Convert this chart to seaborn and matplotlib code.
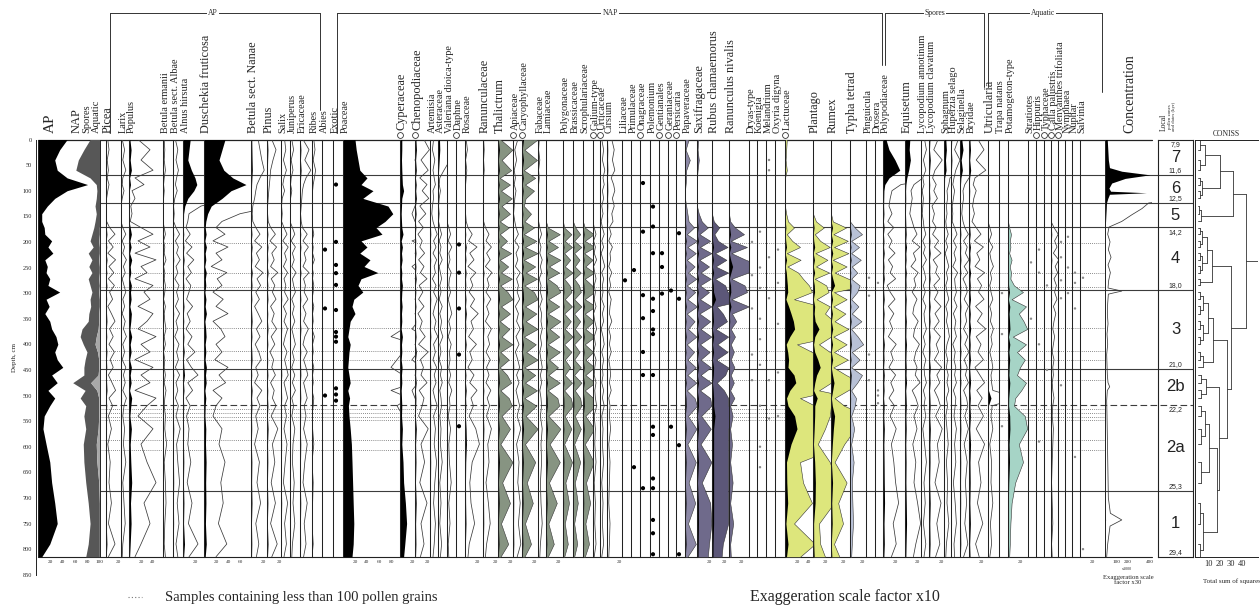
import numpy as np
import matplotlib
matplotlib.use("Agg")
import matplotlib.pyplot as plt
from matplotlib.lines import Line2D
import seaborn as sns

# ---------------- DATA ----------------
depth = [0, 20, 40, 60, 75, 88, 100, 115, 130, 145, 160,
         172, 185, 198, 210, 222, 235, 248, 260, 272, 285,
         298, 312, 326, 340, 355, 370, 385, 400, 415, 430, 445,
         460, 475, 490, 505, 520, 540, 565, 595, 630, 670,
         710, 750, 790, 815]

ap = [47, 35, 27, 31, 47, 80, 47, 27, 15, 6, 6,
      10, 11, 22, 16, 24, 11, 15, 13, 19, 16,
      35, 13, 18, 11, 19, 22, 29, 32, 27, 31, 40,
      22, 31, 16, 27, 19, 10, 8, 13, 19, 22, 27, 31, 19, 6]
nap = [37, 39, 38, 30, 37, 14, 48, 67, 77, 88, 86,
       80, 76, 62, 73, 57, 76, 67, 74, 62, 68,
       52, 71, 67, 71, 62, 49, 39, 41, 52, 45, 34,
       52, 25, 60, 41, 58, 64, 69, 60, 55, 55, 54, 53, 62, 71]
spores = [16, 26, 35, 39, 16, 6, 5, 6, 8, 6, 8,
          9, 12, 14, 10, 18, 11, 17, 12, 17, 15,
          11, 15, 14, 16, 17, 26, 26, 19, 17, 22, 24,
          23, 29, 19, 30, 21, 24, 20, 21, 21, 21, 18, 15, 18, 22]
aquatic = [0, 0, 0, 0, 0, 0, 0, 0, 0, 0, 0,
           1, 1, 2, 1, 1, 2, 1, 1, 2, 1,
           2, 1, 1, 2, 2, 3, 6, 8, 4, 2, 2,
           3, 15, 5, 2, 2, 2, 3, 6, 5, 2, 1, 1, 1, 1]

picea = [0.3,0.5,0.2,0.4, 0.2,0.5,0.3,0.1, 0,0,0.1, 0.6,1.5,0.4,1.2,0.3,1.6,0.5,1.3,0.4,1.4, 0.6,1.1,0.3,0.9,1.5,0.6,1.2,0.5,1.4,0.7,1.2, 0.4,1.0,1.6,0.5, 1.1,0.4,0.9,0.3,0.7,0.5, 0.9,0.4,1.5,0.4]
larix = [0.2,0.6,0.3,0.8, 0.3,0.2,0.5,0.2, 0,0,0, 0.3,0.8,0.2,0.6,0.3,0.9,0.4,0.7,0.2,0.5, 0.8,0.3,0.6,0.2,0.7,0.4,0.9,0.3,0.6,0.2,0.8, 0.4,0.7,0.3,0.9, 0.5,0.3,0.6,0.4,0.8,0.3, 0.5,0.7,0.3,0.2]
populus = [1.5,3.5,2.0,4.0, 1.0,2.5,0.5,1.0, 0.3,0.5,0.2, 2.0,4.0,1.5,3.5,1.0,4.5,2.0,3.0,1.0,4.0, 2.5,3.5,1.5,4.0,3.0,1.5,4.5,2.0,3.5,1.0,4.0, 2.0,3.5,1.0,4.5, 3.0,1.5,4.0,2.0,3.0,4.5, 2.5,3.5,2.0,1.0]
bet_erm = [0.2,0.3,0.2,0.4, 0.2,0.1,0.2,0.1, 0,0,0, 0.2,0.4,0.1,0.3,0.2,0.5,0.1,0.3,0.2,0.4, 0.3,0.1,0.4,0.2,0.3,0.5,0.2,0.4,0.1,0.3,0.2, 0.4,0.2,0.5,0.3, 0.2,0.4,0.3,0.6,0.2,0.4, 0.5,0.3,0.2,0.4]
bet_alb = [0.4,0.8,0.5,0.9, 0.6,0.4,0.7,0.3, 0.1,0.2,0.1, 0.5,1.1,0.4,0.9,0.6,1.2,0.5,0.8,0.3,1.0, 0.6,0.9,0.4,1.1,0.5,0.8,0.3,1.0,0.6,0.9,0.4, 1.1,0.5,0.8,0.4, 0.9,0.5,1.2,0.6,0.8,1.1, 0.7,1.0,0.5,0.8]
alnus = [12,10,8,14, 20,23,18,8, 3,1.0,0.8, 0.5,1.2,0.4,1.5,0.6,1.8,0.8,1.4,0.5,1.3, 1.0,0.6,1.6,0.7,1.2,0.5,1.5,0.8,2.0,0.6,1.4, 2.5,0.8,1.6,0.5, 1.2,0.6,1.0,0.8,1.3,0.7, 1.5,0.9,2.5,1.0]
duschekia = [35,30,25,33, 48,70,45,30, 12,6,3, 2.0,3.5,1.5,4.0,2.0,3.0,1.2,3.8,2.2,3.0, 1.5,3.2,2.0,4.0,1.5,2.8,3.5,2.0,3.0,1.8,4.0, 2.5,3.6,1.5,3.0, 2.0,1.5,3.0,2.5,3.5,2.8, 3.2,2.4,3.8,2.0]
bet_nana = [1.2,1.5,1.8,2.2, 1.5,1.0,0.8,0.6, 0.3,0.2,0.3, 0.8,1.5,0.6,1.8,0.9,1.4,0.7,2.0,1.0,1.6, 0.8,1.4,0.6,1.2,1.8,0.9,1.5,0.7,1.3,1.7,0.8, 1.2,0.6,1.8,1.0, 1.5,0.8,1.2,0.6,1.4,1.0, 1.6,0.8,1.3,0.9]
pinus = [0.8,1.5,1.0,0.6, 0.5,0.4,0.3,0.2, 0.1,0.1,0.2, 0.6,1.4,0.5,1.6,0.8,1.2,0.6,1.8,0.7,1.3, 0.9,1.5,0.6,1.2,0.8,1.6,0.7,1.3,0.5,1.1,0.8, 1.4,0.6,1.2,0.9, 1.5,0.7,1.8,0.9,1.3,0.7, 1.4,0.6,1.7,0.8]
salix = [0.6,0.8,0.4,0.9, 0.5,0.3,0.6,0.2, 0.1,0.2,0.1, 0.5,1.0,0.3,1.2,0.6,0.9,0.4,1.1,0.5,0.8, 0.6,1.2,0.4,0.9,0.5,1.1,0.7,0.4,1.0,0.6,0.9, 1.2,0.5,0.8,1.1, 0.6,0.9,0.5,1.0,0.7,0.4, 1.1,0.6,0.9,0.5]
juniperus = [0.3,0.6,0.2,0.5, 0.2,0.1,0.3,0.1, 0,0.1,0, 0.4,0.8,0.2,0.9,0.4,0.7,0.3,1.0,0.4,0.6, 0.9,0.3,0.7,0.4,0.8,0.3,0.6,0.9,0.4,0.7,0.3, 0.8,0.4,0.9,0.3, 0.6,0.3,0.8,0.5,0.4,0.7, 0.5,0.8,0.4,0.3]
ericaceae = [0.5,1.5,0.8,1.8, 1.0,0.6,0.4,0.3, 0.2,0.1,0.2, 0.4,1.2,0.5,1.4,0.7,1.0,0.5,1.5,0.6,0.9, 0.7,1.3,0.5,1.0,0.6,1.4,0.8,0.5,1.2,0.6,1.0, 1.3,0.6,0.9,1.2, 0.7,1.0,0.6,1.2,0.8,0.5, 1.2,0.7,1.0,0.6]
ribes = [0.3,0.5,0.2,0.6, 0.4,0.2,0.1,0, 0,0,0, 0.1,0.3,0,0.2,0.1,0.4,0,0.2,0.1,0.3, 0.2,0,0.3,0.1,0.2,0,0.4,0.1,0.2,0,0.3, 0.1,0.2,0,0.3, 0.2,0,0.1,0.3,0,0.2, 0.1,0,0.2,0]
abies_dots = [215, 330, 500]
exotic_dots = [88, 200, 245, 261, 284, 333, 376, 385, 395, 486, 498, 510]

poaceae = [20,22,25,28, 40,30,50,33, 75,83,70, 55,65,30,40,28,45,35,58,30,25, 33,18,15,20,12,10,8,12,10,9,8, 10,12,8,11, 9,10,12,14,15,16, 17,18,17,15]
cyper = [3,3,2.5,3, 3.5,4,6,3, 2.5,2,2.5, 3,5,2,4,2.5,3.5,2,3,2.5,4, 3,2.5,3.5,2.5,3,2,4,2.5,3,2,3.5, 2.5,3,2,2.5, 3,2.5,4,3,5,6, 9,11,8,6]
cheno = [1.5,2.4,1.0,2.2, 0.8,2.0,1.2,2.3, 0.8,1.8,0.6, 1.4,0.5,1.2,0.8,1.6,0.6,1.5,0.9,2.0,0.7, 1.3,0.6,1.5,0.5,1.2,0.8,1.7,0.6,2.2,0.9,1.4, 1.0,2.0,0.7,1.5, 1.2,0.6,2.2,1.0,1.6,0.8, 2.0,1.0,1.5,0.9]
artemisia = [0.6,0.4,0.8,0.5, 0.7,0.9,0.5,0.6, 0.4,0.3,0.5, 0.8,1.2,0.6,1.0,0.5,1.1,0.7,0.9,0.4,1.0, 0.6,1.2,0.8,0.5,1.0,0.7,1.3,0.6,0.9,0.5,1.1, 0.7,1.0,0.5,0.8, 1.2,0.6,0.9,0.7,1.1,0.8, 0.6,0.9,0.7,0.5]
asteraceae = [2.5,3.0,2.0,1.0, 0.3,0.2,0.4,0.2, 0.1,0.2,0.1, 0.3,0.6,0.2,0.5,0.3,0.7,0.2,0.4,0.6,0.3, 0.5,0.2,0.7,0.3,0.6,0.4,0.8,0.3,0.5,0.2,0.6, 0.4,0.7,0.3,0.5, 0.6,0.3,0.5,0.4,0.7,0.3, 0.5,0.3,0.6,0.4]
valeriana = [0,0,0.1,0, 0,0,0,0, 0,0,0, 0.3,0.6,0.2,0.8,0.3,0.5,0.2,0.7,0.4,0.3, 0.6,0.2,0.5,0.8,0.3,0.6,0.2,0.7,0.4,0.5,0.3, 0.6,0.3,0.8,0.4, 0.5,0.2,0.6,0.3,0.4,0.7, 0.3,0.5,0.2,0.3]
daphne_dots = [205, 260, 330, 420, 560]
rosaceae = [0.2,0.4,0.1,0.3, 0.2,0.1,0,0.1, 0,0.1,0.2, 0.5,1.2,0.6,2.0,0.8,1.5,0.5,1.8,0.9,1.3, 0.7,1.6,0.9,2.2,1.0,1.4,0.6,1.9,0.8,1.2,0.5, 1.5,0.8,2.0,1.0, 1.4,0.7,1.8,2.4,1.2,0.8, 1.0,1.6,0.7,0.5]
ranunc = [0.1,0.2,0.1,0.2, 0.1,0,0.1,0, 0,0,0.1, 0.4,1.0,0.5,1.4,0.6,1.2,0.4,1.5,0.7,1.0, 0.5,1.3,0.6,1.0,0.4,1.4,0.8,1.1,0.5,1.2,0.6, 1.0,0.5,1.3,0.7, 1.1,0.6,1.4,0.8,1.0,0.5, 0.9,1.2,0.6,0.4]
thalictrum = [0.4,2.4,0.6,2.2, 0.3,2.0,0.5,2.3, 0.6,2.0,0.3, 1.8,0.3,1.5,0.4,2.2,0.3,1.7,0.5,2.3,0.4, 1.6,2.4,0.5,2.0,0.3,1.9,0.6,2.4,0.4,1.8,0.3, 1.5,2.2,0.4,1.8, 2.3,0.6,2.0,0.4,2.4,0.7, 2.0,0.5,1.7,0.4]
apiaceae = [0.8,0.3,0.6,0.2, 0.4,0.2,0.5,0.3, 0.2,0.1,0.3, 0.5,0.9,0.3,1.0,0.5,0.8,0.4,1.2,0.6,0.9, 0.7,1.1,0.4,0.9,0.6,1.2,0.5,1.0,0.4,0.8,1.1, 0.6,1.0,0.5,0.8, 1.1,0.7,1.3,0.6,1.0,0.8, 1.2,0.9,1.3,0.7]
caryo = [2.6,0.4,2.5,0.3, 2.2,0.5,2.0,0.6, 0.3,1.5,0.4, 2.0,0.3,2.4,0.5,2.6,0.3,2.2,0.6,2.5,0.4, 2.0,2.6,0.5,2.4,0.6,2.6,0.3,2.3,0.7,2.6,0.4, 2.2,0.5,2.5,0.4, 2.4,0.6,2.6,0.5,2.2,0.8, 1.8,0.5,1.5,0.4]
fabaceae = [0.2,0.1,0.3,0.1, 0.2,0.1,0,0.1, 0,0,0.1, 0.3,0.6,0.2,0.5,0.3,0.7,0.4,0.6,0.2,0.5, 0.4,0.7,0.3,0.6,0.5,0.7,0.4,0.6,0.3,0.5,0.7, 0.4,0.6,0.3,0.5, 0.6,0.4,0.7,0.5,0.6,0.4, 0.5,0.7,0.4,0.3]
lamiaceae = [0,0,0,0, 0,0,0,0, 0,0,0, 0.3,2.3,0.4,2.0,0.3,2.4,0.5,2.2,0.3,1.8, 2.4,0.4,2.2,0.3,2.4,0.6,2.2,0.3,2.3,0.5,2.0, 0.4,2.3,0.3,1.9, 2.2,0.4,2.4,0.6,2.3,0.5, 1.8,0.4,1.3,0.3]
polygon = [0,0,0,0, 0,0,0,0, 0,0,0, 0.2,1.4,0.3,1.5,0.2,1.2,0.3,1.6,0.2,1.1, 1.4,0.3,1.5,0.2,1.3,0.3,1.6,0.2,1.4,0.3,1.2, 0.3,1.5,0.2,1.3, 1.6,0.3,1.4,0.2,1.5,0.4, 1.0,0.3,0.8,0.2]
brassic = [0,0,0,0, 0,0,0,0, 0,0,0, 0.4,1.2,0.2,1.4,0.2,1.1,0.3,1.3,0.2,1.0, 1.3,0.2,1.4,0.2,1.2,0.3,1.4,0.2,1.1,0.2,1.3, 0.2,1.4,0.3,1.2, 1.4,0.3,1.3,0.2,1.2,0.3, 0.8,0.2,0.7,0.2]
scroph = [0,0,0,0, 0,0,0,0, 0,0,0, 0.3,1.8,0.3,2.0,0.2,1.6,0.4,1.9,0.3,1.5, 1.9,0.3,2.1,0.3,1.8,0.4,2.0,0.3,1.7,0.4,1.9, 0.4,2.0,0.3,1.7, 2.1,0.4,1.9,0.3,1.8,0.5, 1.2,0.4,1.0,0.3]
galium = [0,0,0,0, 0,0,0,0, 0,0,0, 0.2,0.5,0.1,0.4,0.2,0.6,0.1,0.3,0.5,0.2, 0.4,0.2,0.5,0.1,0.3,0.6,0.2,0.4,0.1,0.5,0.3, 0.2,0.5,0.3,0.4, 0.6,0.2,0.4,0.3,0.5,0.2, 0.4,0.3,0.5,0.2]
urtica = [0.3,0.6,0.4,0.8, 0.5,0.7,0.4,0.6, 0.3,0.5,0.2, 0.4,0.7,0.3,0.6,0.2,0.5,0.8,0.3,0.6,0.4, 0.5,0.3,0.7,0.4,0.6,0.2,0.5,0.7,0.3,0.6,0.4, 0.5,0.3,0.6,0.4, 0.7,0.3,0.5,0.4,0.6,0.3, 0.5,0.4,0.6,0.3]
cirsium = [0.8,1.2,0.9,1.3, 0.7,1.1,1.3,0.9, 1.2,0.8,1.0, 0.4,0.7,0.3,0.9,0.5,0.6,0.3,0.8,0.4,0.6, 0.3,0.7,0.5,0.4,0.8,0.3,0.6,0.4,0.7,0.3,0.5, 0.6,0.4,0.7,0.3, 0.5,0.4,0.6,0.3,0.5,0.4, 0.3,0.5,0.4,0.3]
liliaceae_dots = [275]
primulaceae_dots = [255, 640]
onagraceae_dots = [85, 180, 304, 349, 415, 460, 681]
polemonium_dots = [131, 170, 222, 311, 335, 371, 380, 460, 561, 577, 662, 681, 743, 769, 810]
gentianales_dots = [222, 249, 301]
geraniaceae_dots = [295, 561]
persicaria_dots = [183, 311, 597, 810]
papaver = [0.6,0.1,0.8,0.2, 0.2,0.1,0,0, 0.2,0.4,0.6, 1.5,0.3,2.0,0.4,1.8,0.3,1.6,0.5,1.9,0.3, 1.7,0.4,2.0,0.3,1.6,0.5,1.9,0.3,1.5,0.4,1.8, 0.4,1.9,0.3,1.6, 2.0,0.5,1.9,0.4,1.8,0.6, 1.7,0.5,1.8,0.4]
saxifr = [0.2,0.1,0.3,0.1, 0,0,0,0, 0,0.3,0.8, 1.8,0.4,2.2,0.5,2.4,0.4,2.0,0.6,2.3,0.5, 2.0,0.5,2.4,0.4,2.2,0.6,2.4,0.5,2.1,0.6,2.3, 0.6,2.4,0.5,2.2, 2.4,0.7,2.3,0.6,2.4,0.8, 2.2,2.4,2.0,1.8]
rubus = [0,0,0,0, 0,0,0,0, 0,0,0.3, 1.2,0.4,1.0,2.6,0.5,2.4,0.6,2.7,0.5,2.2, 2.6,6.0,0.8,1.8,2.5,0.6,2.7,0.9,2.6,0.7,2.7, 2.2,0.8,2.0,2.7, 2.7,5.0,2.7,2.7,2.7,2.7, 2.7,2.7,1.8,1.6]
ran_niv = [0,0,0,0, 0,0,0,0, 0,0,0.2, 1.0,2.5,0.3,3.0,0.4,2.8,6.0,3.2,0.4,2.6, 3.0,0.4,3.3,0.5,1.2,0.3,1.0,0.3,0.8,0.3,0.9, 0.3,0.8,0.2,0.9, 0.2,0.6,0.2,0.5,0.2,0.6, 0.2,0.7,0.2,0.3]
dryas_dots = [200, 265, 330, 420, 470]
koenigia_dots = [180, 250, 290, 350, 390, 440, 520, 600, 640]
melandrium_dots = [40, 60, 230, 310, 470, 545]
oxyria_dots = [215, 280, 360, 455, 540]
lactuceae = [0.3,0.2,0.1,0.3, 0,0,0,0, 0,0.2,0.5, 1.5,0.3,1.2,2.5,0.3,2.6,0.4,2.2,3.0,4.0, 4.5,1.5,6,10,14,16,8,2.0,4.5,6,5, 15,18,8,2.5, 5,16,20,10,2.5,3, 4.5,1.5,5,2.5]
plantago = [0,0,0,0, 0,0,0,0, 0,0,0.5, 1.8,0.3,1.2,2.8,0.4,2.4,0.5,2.7,0.3,2.2, 2.6,0.6,2.8,2.0,3.5,10,3.0,1.0,2.8,8,12, 6,3,1.0,7, 3,2.8,2.0,0.8,2.8,4, 3.5,1.0,1.2,2.0]
rumex = [0,0,0,0, 0,0,0,0, 0,0,0.3, 2.5,0.4,2.8,0.5,2.9,0.3,2.6,0.6,2.9,6, 0.5,2.6,0.4,2.4,0.6,2.9,0.4,2.6,0.5,2.8,0.4, 2.5,5,2.8,0.6, 2.2,6,4,2.2,0.6,2.6, 1.2,2.0,0.5,1.4]
typha = [0,0,0,0, 0,0,0,0, 0,0,0, 0.8,2.0,0.2,1.5,0.2,1.8,0.3,1.2,0.2,1.6, 1.2,0.2,1.4,0.3,1.9,0.2,1.3,2.2,0.3,1.6,0.2, 2.0,1.2,0.2,1.0, 0.8,0.2,0.7,0.2,0.6,0.3, 0.4,0.5,0.3,0.2]
pinguicula_dots = [270, 305, 420, 470]
drosera_dots = [280, 490, 500, 515]

polypod = [5,10,20,28, 10,3,1.5,1.2, 1.0,1.5,0.8, 1.8,0.8,1.5,1.0,2.0,0.9,1.6,1.2,2.1,0.7, 1.2,2.0,0.9,1.8,1.1,1.6,0.9,2.2,1.3,1.7,1.0, 2.1,1.3,1.8,1.0, 1.9,1.2,2.2,1.4,1.8,2.1, 2.6,1.7,2.2,1.4]
equisetum = [8,7,9,6, 3,1.5,1.0,1.2, 1.0,0.8,1.2, 1.5,2.0,1.2,2.5,1.4,1.8,1.0,2.2,1.5,1.8, 1.2,2.0,1.5,1.3,2.2,1.6,1.4,2.4,1.8,1.5,2.0, 1.7,2.5,1.2,1.8, 2.2,1.5,2.0,1.3,1.8,1.5, 2.1,2.6,1.8,1.4]
lyc_ann = [0.6,0.9,0.4,0.8, 0.3,0.5,0.2,0.4, 0.3,0.2,0.4, 0.5,0.8,0.3,0.7,0.4,0.9,0.3,0.6,0.8,0.4, 0.7,0.3,0.8,0.5,0.6,0.9,0.4,0.7,0.3,0.8,0.5, 0.6,0.9,0.4,0.7, 0.5,0.8,0.3,0.6,0.9,0.5, 0.7,0.4,0.8,0.5]
lyc_cla = [1.5,0.8,2.2,1.0, 0.6,1.2,0.8,1.4, 0.5,0.9,0.6, 1.2,0.6,1.6,0.9,2.0,0.7,1.4,1.1,1.8,0.8, 1.5,0.9,2.0,1.0,1.7,0.8,1.9,1.2,1.6,0.9,2.1, 1.3,1.8,0.9,1.5, 1.9,1.1,2.2,1.4,1.7,1.0, 2.0,1.3,1.8,1.1]
sphagnum = [3,4,2.5,3.5, 1.0,0.8,0.5,0.6, 0.4,0.5,0.3, 0.4,0.7,0.3,0.6,0.2,0.5,0.8,0.4,0.6,0.3, 0.5,0.8,0.3,0.6,0.4,0.7,0.9,0.5,0.3,0.6,0.4, 0.7,0.5,0.8,0.4, 0.6,0.3,0.5,0.7,0.4,0.6, 0.5,0.8,0.4,0.3]
huperzia = [1.2,0.6,1.5,0.8, 0.5,0.3,0.6,0.4, 0.2,0.3,0.2, 0.6,1.0,0.4,0.9,0.5,0.8,0.3,1.1,0.6,0.7, 0.9,0.5,1.0,0.4,0.8,0.6,0.9,0.3,0.7,0.5,0.8, 0.6,0.9,0.4,0.8, 0.7,0.5,0.9,0.6,0.8,0.4, 0.7,0.9,0.5,0.6]
selaginella = [3,5,2,4, 1.5,0.8,0.5,0.6, 0.4,0.3,0.5, 0.8,1.4,0.6,1.2,0.9,1.5,0.7,1.3,0.5,1.0, 1.2,0.7,1.4,0.9,1.1,0.6,1.3,0.8,1.5,0.7,1.2, 0.9,1.4,0.6,1.1, 1.3,0.8,1.4,0.7,1.2,0.9, 1.1,0.8,1.3,0.6]
bryidae = [1.5,2.5,1.2,2.8, 1.0,0.7,1.2,0.8, 0.6,0.9,0.5, 1.2,2.0,0.9,2.4,1.3,1.8,1.0,2.6,1.4,2.1, 1.6,2.5,1.1,2.2,1.4,2.8,1.2,2.0,1.5,2.4,1.0, 1.8,2.6,1.3,2.2, 1.5,2.4,1.2,2.6,1.6,2.0, 1.4,2.3,1.1,1.7]

utricularia = [0,0,0,0, 0,0,0,0, 0,0,0, 0.3,0.6,0.2,0.8,0.3,0.5,0.9,0.4,0.6,0.3, 0.5,0.8,0.3,0.6,0.4,0.9,0.5,0.7,0.3,0.6,0.8, 0.5,0.6,0.8,5, 0.7,0.5,0.8,0.3,0.6,0.5, 0.8,0.4,0.6,0.3]
trapa_dots = [300, 380, 560]
potamog = [0,0,0,0, 0,0,0,0, 0,0,0, 0.2,0.5,0.3,0.4,0.2,0.6,0.3,0.5,0.4,1.0, 2.5,0.6,3.0,1.8,2.6,3.2,0.8,3.0,1.5,2.8,2.0, 1.5,3.0,2.2,1.2, 1.0,2.8,3.2,1.8,2.5,1.2, 0.6,0.4,0.3,0.2]
stratiotes_dots = [240, 350]
hippuris_dots = [215, 260, 400, 590]
typhaceae_dots = [285, 450]
calla = [0,0,0,0, 0,0,0,0, 0,0,0, 0.5,1.2,0.6,1.0,0.4,1.3,0.7,1.1,0.5,0.9, 0.6,1.0,0.4,0.8,0.5,0.3,0.6,0.4,0.2,0.5,0.3, 0.4,0.2,0.3,0.5, 0.3,0.2,0.4,0.3,0.2,0.1, 0.2,0.3,0.1,0.2]
menyanthes_dots = [200, 230, 275, 310, 480]
nymphaea_dots = [190, 250, 300]
nuphar_dots = [260, 280, 330, 620]
salvinia_dots = [270, 800]

conc_depth = [0, 20, 40, 55, 62, 69, 76, 85, 95, 101, 104, 107, 115, 124, 135, 147, 160, 171, 185, 200,
              215, 230, 245, 260, 275, 290, 296, 302, 320, 340, 360, 380, 400, 420, 440, 460, 475, 483, 490, 510,
              540, 580, 620, 660, 700, 730, 743, 755, 790, 815]
conc = [20, 25, 30, 40, 150, 400, 180, 60, 35, 50, 370, 40, 25, 13, 11, 8, 5, 1.2, 0.8, 1.5,
        1.0, 1.8, 0.9, 1.6, 1.1, 0.9, 5.0, 1.0, 0.8, 0.7, 0.9, 0.6, 0.8, 0.5, 0.6, 0.7, 0.9, 1.4, 0.7, 0.5,
        0.6, 0.7, 0.8, 0.9, 1.0, 1.6, 5.0, 1.5, 0.8, 0.5]

zone_bounds = [0, 69, 124, 171, 294, 448, 518, 686, 815]
zone_names = ["7", "6", "5", "4", "3", "2b", "2a", "1"]
zone_dates = ["7,9", "11,6", "12,5", "14,2", "18,0", "21,0", "22,2", "25,3", "29,4"]
lowcount_depths = [202, 261, 288, 368, 414, 430, 470, 526, 534, 541, 548, 587, 606]

coniss_levels = {"7": [2, 6], "6": [1.5, 3.5], "5": [1, 2.5], "4": [1.5, 4, 8, 13],
                 "3": [2, 5, 9, 14], "2b": [2.5, 7], "2a": [3, 6, 10], "1": [2, 5]}
coniss_merges = [("7", "6", 20, "A"), ("A", "5", 32, "B"), ("2a", "1", 17, "C"),
                 ("2b", "C", 19, "E"), ("3", "E", 26, "F"), ("4", "F", 30, "G"),
                 ("B", "G", 44, "R")]

# ---------------- STYLE ----------------
sns.set_theme(style="white")
plt.rcParams['font.family'] = ['Liberation Serif', 'DejaVu Serif']
plt.rcParams['axes.linewidth'] = 0.7
plt.rcParams['axes.edgecolor'] = '#222222'

GG = '#879482'
PL = '#8c88a6'
PM = '#6f6a8b'
PD = '#5c5778'
YEL = '#dde67c'
LBL = '#b8c1d6'
TEAL = '#a6d4c6'
LINEC = '#3a3a3a'

W, H = 1260, 609
fig = plt.figure(figsize=(W / 100, H / 100), dpi=100)
fig.patch.set_facecolor('white')
TOP, BOT = 139.5, 556.8
DMAX = 815
PX = 0.6
D = np.array(depth, dtype=float)


def add_ax(x0, x1, y0=TOP, y1=BOT):
    a = fig.add_axes([x0 / W, 1 - y1 / H, (x1 - x0) / W, (y1 - y0) / H])
    a.set_facecolor('none')
    return a


def fline(x0, x1, y0, y1, **kw):
    fig.add_artist(Line2D([x0 / W, x1 / W], [1 - y0 / H, 1 - y1 / H],
                          transform=fig.transFigure, color='#333', lw=0.7, **kw))


# ---------------- BACKGROUND LINES ----------------
bg = add_ax(38, 1193)
bg.set_xlim(38, 1193)
bg.set_ylim(DMAX, 0)
bg.axis('off')
for d in zone_bounds[1:-1]:
    ls = (0, (6, 3)) if d == 518 else '-'
    bg.plot([100, 1193], [d, d], color='#3c3c3c', lw=0.8, ls=ls)
for d in lowcount_depths:
    bg.plot([100, 1105], [d, d], color='#666', lw=0.6, ls=(0, (1, 1.5)))
bg.plot([38, 1152], [0, 0], color='#222', lw=0.9, clip_on=False)
bg.plot([38, 1152], [DMAX, DMAX], color='#222', lw=0.8, clip_on=False)

# ---------------- DEPTH AXIS ----------------
dax = fig.add_axes([36 / W, 1 - (TOP + 0.512 * 850) / H, 0.0005, (0.512 * 850) / H])
dax.set_facecolor('none')
dax.set_ylim(850, 0)
dax.set_xticks([])
dax.set_yticks(range(0, 851, 50))
dax.tick_params(axis='y', labelsize=4.5, length=2, width=0.5, pad=1)
for s in ['top', 'right', 'bottom']:
    dax.spines[s].set_visible(False)
dax.spines['left'].set_linewidth(0.7)
dax.set_ylabel('Depth, cm', fontsize=5, labelpad=4)

# ---------------- SUMMARY ----------------
sax = add_ax(38, 100)
sax.set_xlim(0, 100)
sax.set_ylim(DMAX, 0)
c1 = np.array(ap, float)
c2 = c1 + np.array(nap, float)
c3 = c2 + np.array(spores, float)
c4 = c3 + np.array(aquatic, float)
sax.fill_betweenx(D, 0, c1, color='black', lw=0)
sax.fill_betweenx(D, c2, c3, color='#575757', lw=0)
sax.fill_betweenx(D, c3, c4, color='#a8a8a8', lw=0)
for s in ['top', 'bottom']:
    sax.spines[s].set_visible(False)
sax.set_yticks([])
sax.set_xticks([20, 40, 60, 80, 100])
sax.tick_params(axis='x', labelsize=3.8, length=1.5, width=0.4, pad=0.5)
for lab, xx, fs in [("AP", 50, 11), ("NAP", 77, 9), ("Spores", 87, 7.6), ("Aquatic", 96, 7.6)]:
    fig.text(xx / W, 1 - 133 / H, lab, rotation=90, ha='center', va='bottom', fontsize=fs)

# ---------------- TAXA COLUMNS ----------------
cols = [
    ("Picea", 106, 121, picea, 'line', None), ("Larix", 121, 129, larix, 'line', None),
    ("Populus", 129, 163, populus, 'line', None), ("Betula ermanii", 163, 173, bet_erm, 'line', None),
    ("Betula sect. Albae", 173, 183, bet_alb, 'line', None), ("Alnus hirsuta", 183, 204, alnus, 'line', None),
    ("Duschekia fruticosa", 204, 251, duschekia, 'line', None), ("Betula sect. Nanae", 251, 267, bet_nana, 'line', None),
    ("Pinus", 267, 281, pinus, 'line', None), ("Salix", 281, 290, salix, 'line', None),
    ("Juniperus", 290, 300, juniperus, 'line', None), ("Ericaceae", 300, 312, ericaceae, 'line', None),
    ("Ribes", 312, 322, ribes, 'line', None), ("Abies", 322, 333, abies_dots, 'dots', None),
    ("Exotic", 333, 343, exotic_dots, 'dots', None),
    ("Poaceae", 343, 400, poaceae, 'line', None), ("Cyperaceae", 400, 415, cyper, 'line', None),
    ("Chenopodiaceae", 415, 430, cheno, 'line', None), ("Artemisia", 430, 438, artemisia, 'line', None),
    ("Asteraceae", 438, 447, asteraceae, 'line', None), ("Valeriana dioica-type", 447, 456, valeriana, 'line', None),
    ("Daphne", 456, 465, daphne_dots, 'dots', None), ("Rosaceae", 465, 483, rosaceae, 'line', None),
    ("Ranunculaceae", 483, 498, ranunc, 'line', None), ("Thalictrum", 498, 513, thalictrum, 'fill', GG),
    ("Apiaceae", 513, 522, apiaceae, 'line', None), ("Caryophyllaceae", 522, 538, caryo, 'fill', GG),
    ("Fabaceae", 538, 546, fabaceae, 'line', None), ("Lamiaceae", 546, 563, lamiaceae, 'fill', GG),
    ("Polygonaceae", 563, 573, polygon, 'fill', GG), ("Brassicaceae", 573, 583, brassic, 'fill', GG),
    ("Scrophulariaceae", 583, 593, scroph, 'fill', GG), ("Galium-type", 593, 600, galium, 'line', None),
    ("Urticaceae", 600, 607, urtica, 'line', None), ("Cirsium", 607, 622, cirsium, 'line', None),
    ("Liliaceae", 622, 631, liliaceae_dots, 'dots', None), ("Primulaceae", 631, 640, primulaceae_dots, 'dots', None),
    ("Onagraceae", 640, 650, onagraceae_dots, 'dots', None), ("Polemonium", 650, 659, polemonium_dots, 'dots', None),
    ("Gentianales", 659, 668, gentianales_dots, 'dots', None), ("Geraniaceae", 668, 676, geraniaceae_dots, 'dots', None),
    ("Persicaria", 676, 685, persicaria_dots, 'dots', None),
    ("Papaveraceae", 685, 697, papaver, 'fill', PL), ("Saxifragaceae", 697, 712, saxifr, 'fill', PM),
    ("Rubus chamaemorus", 712, 729, rubus, 'fill', PD), ("Ranunculus nivalis", 729, 749, ran_niv, 'fill', PM),
    ("Dryas-type", 749, 757, dryas_dots, 'sdots', None), ("Koenigia", 757, 766, koenigia_dots, 'sdots', None),
    ("Melandrium", 766, 775, melandrium_dots, 'sdots', None), ("Oxyria digyna", 775, 785, oxyria_dots, 'sdots', None),
    ("Lactuceae", 785, 813, lactuceae, 'fill', YEL), ("Plantago", 813, 831, plantago, 'fill', YEL),
    ("Rumex", 831, 850, rumex, 'fill', YEL), ("Typha tetrad", 850, 866, typha, 'fill', LBL),
    ("Pinguicula", 866, 875, pinguicula_dots, 'sdots', None), ("Drosera", 875, 883, drosera_dots, 'sdots', None),
    ("Polypodiaceae", 883, 905, polypod, 'line', None), ("Equisetum", 905, 921, equisetum, 'line', None),
    ("Lycopodium annotinum", 921, 929, lyc_ann, 'line', None), ("Lycopodium clavatum", 929, 944, lyc_cla, 'line', None),
    ("Sphagnum", 944, 951, sphagnum, 'line', None), ("Huperzia selago", 951, 960, huperzia, 'line', None),
    ("Selaginella", 960, 969, selaginella, 'line', None), ("Bryidae", 969, 988, bryidae, 'line', None),
    ("Utricularia", 988, 999, utricularia, 'line', None), ("Trapa natans", 999, 1008, trapa_dots, 'sdots', None),
    ("Potamogeton-type", 1008, 1028, potamog, 'fill', TEAL), ("Stratiotes", 1028, 1036, stratiotes_dots, 'sdots', None),
    ("Hippuris", 1036, 1044, hippuris_dots, 'sdots', None), ("Typhaceae", 1044, 1051, typhaceae_dots, 'sdots', None),
    ("Calla palustris", 1051, 1058, calla, 'line', None), ("Menyanthes trifoliata", 1058, 1065, menyanthes_dots, 'sdots', None),
    ("Nymphaea", 1065, 1072, nymphaea_dots, 'sdots', None), ("Nuphar", 1072, 1080, nuphar_dots, 'sdots', None),
    ("Salvinia", 1080, 1100, salvinia_dots, 'sdots', None),
]
circle_taxa = {"Cyperaceae", "Chenopodiaceae", "Daphne", "Apiaceae", "Caryophyllaceae", "Galium-type",
               "Urticaceae", "Onagraceae", "Gentianales", "Geraniaceae", "Persicaria", "Lactuceae",
               "Hippuris", "Typhaceae", "Calla palustris", "Menyanthes trifoliata"}

lefts = [c[1] for c in cols]
for k, (name, x0, x1, vals, kind, color) in enumerate(cols):
    ax = add_ax(x0, x1)
    xmax = (x1 - x0) / PX
    if kind in ('line', 'fill'):
        v = np.array(vals, float)
        assert len(v) == len(D), name
        ex = v * 10
        if kind == 'fill':
            ax.fill_betweenx(D, 0, ex, color=color, lw=0.4, edgecolor='#333')
        else:
            sns.lineplot(x=ex, y=D, orient='y', sort=False, estimator=None, color=LINEC,
                         lw=0.55, ax=ax)
        ax.fill_betweenx(D, 0, v, color='black', lw=0)
    elif kind == 'dots':
        if len(vals):
            sns.scatterplot(x=np.full(len(vals), 3.0 / PX), y=np.array(vals, float), ax=ax,
                            color='black', s=9, edgecolor='none', legend=False)
    else:
        if len(vals):
            sns.scatterplot(x=np.full(len(vals), 3.0 / PX), y=np.array(vals, float), ax=ax,
                            color='#8a8a8a', s=3, edgecolor='none', legend=False, marker='o')
    ax.set_xlim(0, xmax)
    ax.set_ylim(DMAX, 0)
    ax.set_xlabel('')
    ax.set_ylabel('')
    ax.set_yticks([])
    for s in ['top', 'right', 'bottom']:
        ax.spines[s].set_visible(False)
    ax.spines['left'].set_linewidth(0.75)
    tk = np.arange(20, xmax, 20)
    ax.set_xticks(tk)
    ax.set_xticklabels([str(int(t)) for t in tk])
    ax.tick_params(axis='x', labelsize=3.8, length=1.5, width=0.4, pad=0.5, colors='#333')
    # label size adapted to the room left by neighbouring labels
    gprev = x0 - lefts[k - 1] if k > 0 else 99
    gnext = lefts[k + 1] - x0 if k + 1 < len(lefts) else 99
    fs = 8.8 if min(gprev, gnext) >= 11 else 7.4
    lx = x0 + 2
    ly = 133 if name not in circle_taxa else 130
    fig.text(lx / W, 1 - ly / H, name, rotation=90, ha='center', va='bottom', fontsize=fs)
    if name in circle_taxa:
        fig.add_artist(Line2D([x0 / W], [1 - 135 / H], marker='o', markersize=4.2,
                              mfc='white', mec='#333', mew=0.6, transform=fig.transFigure))

# ---------------- CONCENTRATION ----------------
cax = add_ax(1105, 1152)
cd = np.array(conc_depth, float)
cv = np.array(conc, float)
cax.fill_betweenx(cd, 0, cv, color='black', lw=0)
sns.lineplot(x=cv * 30, y=cd, orient='y', sort=False, estimator=None, color=LINEC, lw=0.55, ax=cax)
cax.set_xlim(0, 420)
cax.set_ylim(DMAX, 0)
cax.set_xlabel('')
cax.set_ylabel('')
cax.set_yticks([])
for s in ['top', 'right', 'bottom']:
    cax.spines[s].set_visible(False)
cax.set_xticks([100, 200, 400])
cax.tick_params(axis='x', labelsize=3.8, length=1.5, width=0.4, pad=0.5)
fig.text(1130 / W, 1 - 133 / H, "Concentration", rotation=90, ha='center', va='bottom', fontsize=10)
fig.text(1127 / W, 1 - 569 / H, "x1000", ha='center', va='center', fontsize=3)
fig.text(1128 / W, 1 - 580 / H, "Exaggeration scale\nfactor x30", ha='center', va='center',
         fontsize=4.8, linespacing=1.1)

# ---------------- ZONES ----------------
zax = add_ax(1158, 1193)
zax.set_xlim(0, 1)
zax.set_ylim(DMAX, 0)
zax.set_xticks([])
zax.set_yticks([])
for s in zax.spines.values():
    s.set_linewidth(0.8)
for i, nm in enumerate(zone_names):
    a, b = zone_bounds[i], zone_bounds[i + 1]
    zax.text(0.5, (a + b) / 2, nm, ha='center', va='center', fontsize=12,
             family='Liberation Sans', color='#222')
below = {"14,2", "22,2"}
for i, dt in enumerate(zone_dates):
    d = zone_bounds[i]
    if i == 0 or dt in below:
        zax.text(0.5, d + 3, dt, ha='center', va='top', fontsize=5, family='Liberation Sans')
    else:
        zax.text(0.5, d - 1.5, dt, ha='center', va='bottom', fontsize=5, family='Liberation Sans')
fig.text(1164 / W, 1 - 131 / H, "Local", rotation=90, ha='center', va='bottom', fontsize=5.5)
fig.text(1172 / W, 1 - 131 / H, "pollen zones\nand dates (kyr)", rotation=90, ha='center',
         va='bottom', fontsize=3.5, linespacing=1.0)

# ---------------- CONISS ----------------
dnd = add_ax(1195, 1258)
dnd.set_xlim(-2.7, 54.5)
dnd.set_ylim(DMAX, 0)
dnd.spines['right'].set_visible(False)
dnd.spines['top'].set_linewidth(0.7)
dnd.set_yticks([])
dnd.set_xticks([10, 20, 30, 40])
dnd.tick_params(axis='x', labelsize=6, length=1.5, width=0.4, pad=1)
DL = dict(color='#333', lw=0.6)


def merge(n1, n2, h):
    (y1, h1), (y2, h2) = n1, n2
    dnd.plot([h1, h], [y1, y1], **DL)
    dnd.plot([h2, h], [y2, y2], **DL)
    dnd.plot([h, h], [y1, y2], **DL)
    return ((y1 + y2) / 2, h)


nodes = {}
for i, nm in enumerate(zone_names):
    a, b = zone_bounds[i], zone_bounds[i + 1]
    sel = [(d, 0.0) for d in depth if (a <= d < b) or (nm == "1" and d == b)]
    for h in coniss_levels[nm]:
        new = []
        for j in range(0, len(sel) - 1, 2):
            new.append(merge(sel[j], sel[j + 1], h))
        if len(sel) % 2:
            new.append(sel[-1])
        sel = new
    while len(sel) > 1:
        sel = [merge(sel[0], sel[1], coniss_levels[nm][-1])] + sel[2:]
    nodes[nm] = sel[0]
for a, b, h, nm in coniss_merges:
    nodes[nm] = merge(nodes[a], nodes[b], h)
ry, rh = nodes["R"]
dnd.plot([rh, 54.5], [ry, ry], **DL)
fig.text(1226 / W, 1 - 134 / H, "CONISS", ha='center', va='center', fontsize=5.5,
         bbox=dict(facecolor='white', edgecolor='none', pad=0.3))
fig.text(1232 / W, 1 - 581 / H, "Total sum of squares", ha='center', va='center', fontsize=5)


# ---------------- GROUP BRACKETS ----------------
def bracket(x0, x1, label, xl, y=13, d0=133, d1=110):
    fline(x0, x1, y, y)
    fline(x0, x0, y, d0)
    fline(x1, x1, y, d1)
    fig.text(xl / W, 1 - y / H, label, ha='center', va='center', fontsize=5.5,
             bbox=dict(facecolor='white', edgecolor='none', pad=0.6))


bracket(110, 320, "AP", 213)
bracket(337, 882, "NAP", 610, d1=65)
bracket(885, 984, "Spores", 935, d0=65, d1=87)
bracket(988, 1102, "Aquatic", 1043, d0=87, d1=92)

# ---------------- FOOTER ----------------
fig.add_artist(Line2D([128 / W, 142 / W], [1 - 597 / H, 1 - 597 / H], transform=fig.transFigure,
                      color='#777', lw=0.8, ls=(0, (1, 2))))
fig.text(165 / W, 1 - 598 / H, "Samples containing less than 100 pollen grains", ha='left',
         va='center', fontsize=10.5)
fig.text(750 / W, 1 - 597 / H, "Exaggeration scale factor x10", ha='left', va='center', fontsize=11.5)

fig.savefig("out.png", dpi=100, facecolor='white')
